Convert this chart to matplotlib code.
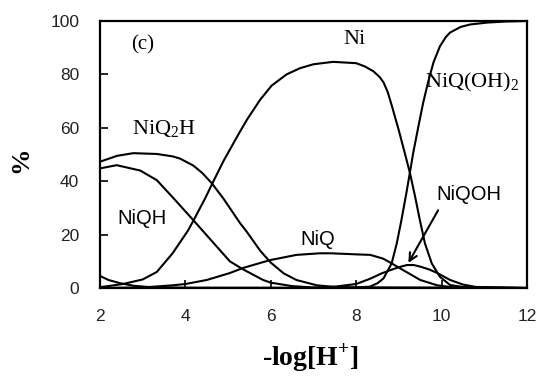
import numpy as np
import matplotlib
matplotlib.use("Agg")
import matplotlib.pyplot as plt

# species distribution (x = -log[H+], y = %)
ni_x = [2.0, 2.54, 3.0, 3.33, 3.7, 4.06, 4.18, 4.46, 4.62, 4.89, 5.24, 5.44, 5.75, 6.02, 6.37,
        6.68, 7.0, 7.46, 8.0, 8.2, 8.4, 8.55, 8.64, 8.74, 8.83, 8.99, 9.14, 9.26, 9.38, 9.49,
        9.61, 9.77, 9.96, 10.2, 10.5, 11.0, 12.0]
ni_y = [0.3, 1.5, 3.2, 6.0, 13.0, 21.5, 25.0, 33.5, 38.8, 47.5, 57.5, 63.0, 70.5, 75.8, 80.0,
        82.3, 83.8, 84.7, 84.2, 83.0, 81.2, 79.0, 77.0, 73.3, 68.5, 59.5, 50.4, 43.0, 34.2, 25.5,
        16.7, 9.2, 4.2, 1.1, 0.4, 0.1, 0.0]

niqoh2_x = [2.0, 7.5, 8.0, 8.32, 8.5, 8.64, 8.83, 8.95, 9.06, 9.18, 9.26, 9.34, 9.45, 9.57,
            9.69, 9.81, 9.96, 10.1, 10.2, 10.45, 10.67, 11.06, 11.5, 12.0]
niqoh2_y = [0.0, 0.0, 0.2, 0.5, 1.8, 3.6, 9.2, 16.7, 25.5, 36.0, 43.5, 51.0, 60.0, 69.5,
            77.5, 84.5, 90.5, 94.0, 95.7, 97.8, 98.7, 99.4, 99.8, 100.0]

niq2h_x = [2.0, 2.4, 2.78, 3.33, 3.7, 3.87, 4.19, 4.4, 4.62, 4.89, 5.28, 5.44, 5.75, 6.0, 6.3,
           6.6, 7.08, 7.5, 8.0, 12.0]
niq2h_y = [47.3, 49.5, 50.5, 50.2, 49.3, 48.5, 45.8, 43.0, 39.2, 33.5, 24.3, 21.0, 14.0, 9.5,
           5.5, 3.0, 1.0, 0.4, 0.1, 0.0]

niqh_x = [2.0, 2.39, 2.94, 3.33, 3.7, 4.18, 4.74, 5.04, 5.35, 5.82, 6.0, 6.5, 7.0, 12.0]
niqh_y = [44.8, 46.0, 44.0, 40.4, 34.0, 25.5, 15.4, 10.0, 7.0, 3.0, 2.0, 0.7, 0.2, 0.0]

niq_x = [2.0, 3.0, 3.7, 4.0, 4.5, 5.04, 5.35, 5.82, 6.0, 6.6, 7.15, 7.4, 8.0, 8.33, 8.63, 8.8,
         9.1, 9.5, 9.9, 10.3, 12.0]
niq_y = [0.0, 0.2, 1.0, 1.5, 3.0, 5.6, 7.5, 9.7, 10.5, 12.4, 13.0, 13.0, 12.6, 12.4, 11.0, 9.5,
         6.7, 3.0, 1.0, 0.2, 0.0]

niqoh_x = [2.0, 7.0, 7.5, 8.0, 8.33, 8.6, 8.8, 9.0, 9.19, 9.35, 9.5, 9.7, 9.9, 10.2, 10.5,
           10.8, 12.0]
niqoh_y = [0.0, 0.0, 0.5, 1.5, 3.5, 5.5, 6.7, 7.8, 8.6, 8.6, 8.0, 7.0, 5.6, 3.0, 1.3, 0.4, 0.0]

other_x = [2.0, 2.2, 2.47, 2.8, 3.2, 4.0, 12.0]
other_y = [4.5, 3.0, 1.8, 0.8, 0.3, 0.1, 0.0]

curves = [(ni_x, ni_y), (niqoh2_x, niqoh2_y), (niq2h_x, niq2h_y), (niqh_x, niqh_y),
          (niq_x, niq_y), (niqoh_x, niqoh_y), (other_x, other_y)]

x_ticks = [2, 4, 6, 8, 10, 12]
y_ticks = [0, 20, 40, 60, 80, 100]

serif = "Liberation Serif"
sans = "Liberation Sans"

fig = plt.figure(figsize=(5.41, 3.76), dpi=100)
ax = fig.add_axes([100 / 541, 1 - 288 / 376, 427 / 541, 267 / 376])

for cx, cy in curves:
    ax.plot(cx, cy, color="black", lw=1.5, solid_joinstyle="round")

ax.set_xlim(2, 12)
ax.set_ylim(0, 100)
ax.set_xticks(x_ticks)
ax.set_yticks(y_ticks)
ax.tick_params(direction="in", length=6, width=1.2, labelsize=12.5, colors="black")
ax.tick_params(axis="x", pad=15)
ax.tick_params(axis="y", pad=15)
for lab in ax.get_xticklabels() + ax.get_yticklabels():
    lab.set_fontfamily(sans)
    lab.set_color("#222222")
for sp in ax.spines.values():
    sp.set_linewidth(1.6)

# labels on the curves
ax.text(3.0, 91, "(c)", family=serif, fontsize=15, ha="center", va="center")
ax.text(7.95, 93, "Ni", family=serif, fontsize=16, ha="center", va="center")
ax.text(3.5, 59.5, r"NiQ$_\mathregular{2}$H", family=serif, fontsize=16, ha="center", va="center")
ax.text(9.62, 77, r"NiQ(OH)$_\mathregular{2}$", family=serif, fontsize=16, ha="left", va="center")
ax.text(2.98, 26, "NiQH", family=sans, fontsize=14.5, ha="center", va="center")
ax.text(7.1, 18, "NiQ", family=sans, fontsize=14.5, ha="center", va="center")
ax.text(10.65, 35, "NiQOH", family=sans, fontsize=14.5, ha="center", va="center")
ax.annotate("", xy=(9.19, 8.5), xytext=(9.95, 30),
            arrowprops=dict(arrowstyle="->", color="black", lw=1.5, mutation_scale=14))

fig.text(21 / 541, 1 - 160 / 376, "%", family=serif, fontweight="bold", fontsize=19,
         rotation=90, ha="center", va="center")
fig.text(310 / 541, 1 - 358 / 376, r"-log[H$^\mathregular{+}$]", family=serif,
         fontweight="bold", fontsize=20, ha="center", va="center")

fig.savefig("out.png", dpi=100)
